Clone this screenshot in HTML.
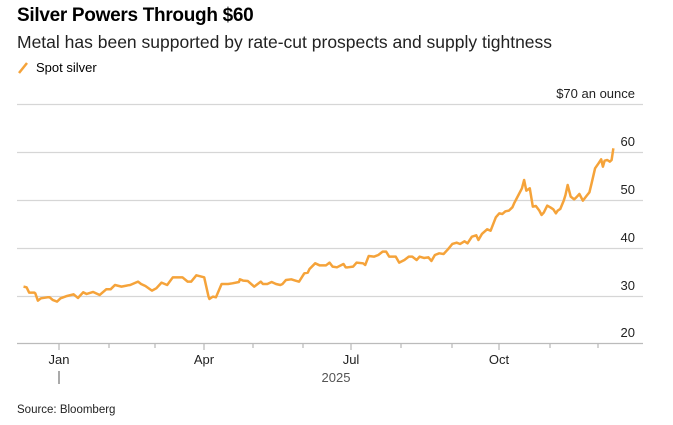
<!DOCTYPE html>
<html><head><meta charset="utf-8"><style>
body{margin:0;width:673px;height:425px;background:#fff;font-family:"Liberation Sans",sans-serif;overflow:hidden;position:relative;color:#000}
.t{position:absolute;left:17px;top:5px;font-size:19px;font-weight:bold;letter-spacing:-0.3px}
.s{position:absolute;left:17px;top:32px;font-size:17.5px;color:#222}
.l{position:absolute;left:36px;top:60px;font-size:13px}
.src{position:absolute;left:17px;top:404px;font-size:11.5px;color:#222}
svg{position:absolute;left:0;top:0}
</style></head><body>
<div class="t">Silver Powers Through $60</div>
<div class="s">Metal has been supported by rate-cut prospects and supply tightness</div>
<div class="l">Spot silver</div>
<div class="src">Source: Bloomberg</div>
<svg width="673" height="425" font-family="Liberation Sans, sans-serif">
<line x1="19" y1="73" x2="27" y2="63" stroke="#f5a33a" stroke-width="2.5"/>
<g stroke="#d6d6d6" stroke-width="1.2">
<line x1="17" y1="104.5" x2="643" y2="104.5"/>
<line x1="17" y1="152.5" x2="643" y2="152.5"/>
<line x1="17" y1="200.5" x2="643" y2="200.5"/>
<line x1="17" y1="248.5" x2="643" y2="248.5"/>
<line x1="17" y1="296.5" x2="643" y2="296.5"/>
</g>
<line x1="17" y1="343.5" x2="643" y2="343.5" stroke="#bbb" stroke-width="1.3"/>
<g stroke="#aaa" stroke-width="1">
<line x1="59" y1="344" x2="59" y2="350"/><line x1="109" y1="344" x2="109" y2="348"/><line x1="155" y1="344" x2="155" y2="348"/>
<line x1="204" y1="344" x2="204" y2="350"/><line x1="253" y1="344" x2="253" y2="348"/><line x1="303" y1="344" x2="303" y2="348"/>
<line x1="351" y1="344" x2="351" y2="350"/><line x1="401" y1="344" x2="401" y2="348"/><line x1="452" y1="344" x2="452" y2="348"/>
<line x1="499" y1="344" x2="499" y2="350"/><line x1="550" y1="344" x2="550" y2="348"/><line x1="598" y1="344" x2="598" y2="348"/>
<line x1="59" y1="371" x2="59" y2="384" stroke="#555"/>
</g>
<g font-size="13" fill="#222" text-anchor="end">
<text x="635" y="98">$70 an ounce</text>
<text x="635" y="146">60</text><text x="635" y="194">50</text><text x="635" y="242">40</text>
<text x="635" y="290">30</text><text x="635" y="337">20</text>
</g>
<g font-size="13" fill="#222" text-anchor="middle">
<text x="59" y="364">Jan</text><text x="204" y="364">Apr</text><text x="351" y="364">Jul</text><text x="499" y="364">Oct</text>
<text x="336" y="382" fill="#555">2025</text>
</g>
<g transform="matrix(0.4353 0 0 0.3333 -0.41 80)">
<path vector-effect="non-scaling-stroke" fill="none" stroke="#f5a33a" stroke-width="2.5" stroke-linejoin="round" d="M55,620 L62,622 68,638 80,638 82,640 88,662 95,655 110,652 115,652 122,660 132,665 140,655 155,648 170,643 180,654 192,637 200,642 215,636 230,645 245,628 255,628 265,615 280,620 295,616 300,615 318,605 325,612 335,618 350,632 360,625 372,608 385,615 398,592 420,592 432,605 440,605 452,586 470,592 480,650 482,657 490,650 497,652 510,612 525,612 535,610 550,606 552,598 560,602 570,603 585,620 600,605 605,612 615,612 625,606 635,612 645,615 650,612 658,600 670,598 680,602 688,605 700,580 708,578 712,567 725,550 735,556 750,556 758,548 765,560 775,562 790,552 795,562 800,562 812,560 820,548 835,550 840,555 848,528 860,530 870,525 880,515 888,515 895,530 910,530 918,548 930,540 940,530 948,530 958,540 965,530 975,534 985,532 992,543 1000,525 1010,520 1020,522 1030,508 1040,492 1050,488 1058,492 1068,484 1075,490 1085,470 1095,466 1100,480 1108,462 1120,448 1128,452 1140,412 1148,400 1155,402 1162,394 1170,392 1178,382 1182,370 1192,345 1200,325 1205,300 1210,332 1218,325 1225,380 1232,378 1240,392 1245,405 1250,398 1258,377 1265,382 1272,388 1278,400 1282,392 1288,387 1296,362 1300,345 1305,315 1312,350 1320,358 1325,352 1332,342 1340,362 1350,345 1355,337 1360,310 1368,265 1376,250 1382,238 1386,260 1390,242 1396,240 1402,245 1406,240 1410,205"/>
</g>
</svg>
</body></html>
